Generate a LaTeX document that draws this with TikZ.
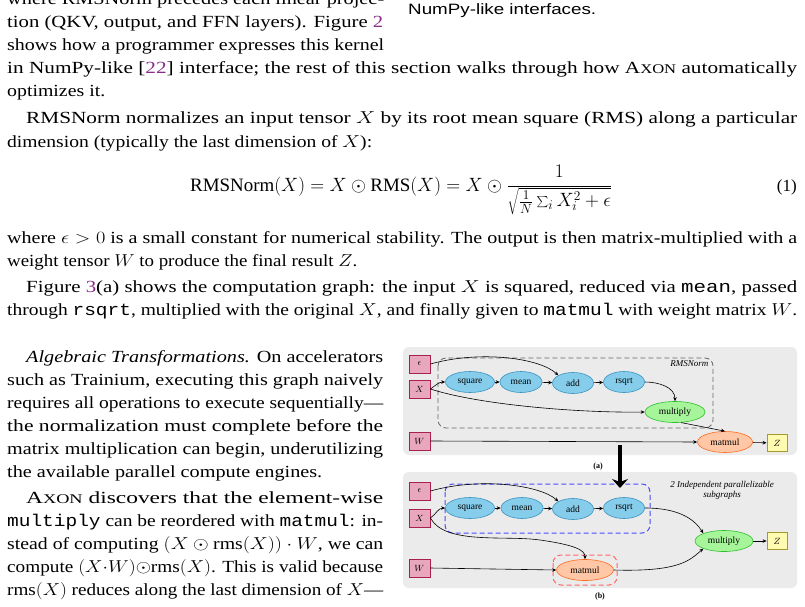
\documentclass[tikz,border=0pt]{standalone}
\usepackage{fontspec}
\setmainfont{Liberation Serif}
\setsansfont{Liberation Sans}
\setmonofont{Liberation Mono}
\usetikzlibrary{arrows.meta,shapes.geometric}
\definecolor{refc}{HTML}{8A2B8A}
\definecolor{pfill}{HTML}{E9A7BE}
\definecolor{pdraw}{HTML}{A8204E}
\definecolor{bfill}{HTML}{86CDEB}
\definecolor{bdraw}{HTML}{3893BE}
\definecolor{gfill}{HTML}{A6F59A}
\definecolor{gdraw}{HTML}{2FBF2F}
\definecolor{ofill}{HTML}{FFC7A6}
\definecolor{odraw}{HTML}{FF6A1E}
\definecolor{yfill}{HTML}{FFFBB0}
\definecolor{ydraw}{HTML}{A89A2A}
\definecolor{panel}{HTML}{EBEBEB}
\newcommand\pline[4]{\node[anchor=base west,inner sep=0pt,font=\fontsize{17}{20}\selectfont] at (#1,#2) {\resizebox{#3pt}{\height}{#4}};}
\newcommand\ax{A\scalebox{0.78}{XON}}
\tikzset{
  inbox/.style={draw=pdraw,fill=pfill,line width=0.8pt,minimum width=21pt,minimum height=18pt,inner sep=0pt,font=\fontsize{9.5}{10}\selectfont},
  opn/.style={ellipse,draw=bdraw,fill=bfill,line width=0.6pt,minimum height=21pt,inner sep=0pt,font=\fontsize{9.5}{10}\selectfont},
  arr/.style={-{Stealth[length=4pt,width=3.5pt]},line width=0.6pt},
  pnl/.style={fill=panel,rounded corners=6pt,draw=none},
  fig/.style={font=\fontsize{9}{10}\selectfont}
}
\begin{document}
\begin{tikzpicture}[x=1pt,y=-1pt]
\useasboundingbox (0,0) rectangle (805,607);
% text
\pline{7}{5}{377}{where RMSNorm precedes each linear projec-}
\pline{7}{28}{376}{tion (QKV, output, and FFN layers). Figure \textcolor{refc}{2}}
\pline{7}{51}{377}{shows how a programmer expresses this kernel}
\node[anchor=base west,inner sep=0pt,font=\sffamily\fontsize{15}{18}\selectfont] (cap) at (408,15) {\resizebox{188pt}{\height}{NumPy-like interfaces.}};
\pline{7}{74}{790}{in NumPy-like [\textcolor{refc}{22}] interface; the rest of this section walks through how \ax\ automatically}
\pline{7}{97}{98}{optimizes it.}
\pline{26}{124}{771}{RMSNorm normalizes an input tensor $X$ by its root mean square (RMS) along a particular}
\pline{7}{147}{365}{dimension (typically the last dimension of $X$):}
\node[anchor=base west,inner sep=0pt,font=\fontsize{17}{20}\selectfont] (eq) at (190,191) {\resizebox{422pt}{!}{$\displaystyle \mathrm{RMSNorm}(X) = X \odot \mathrm{RMS}(X) = X\odot \frac{1}{\sqrt{\frac{1}{N}\sum_i X_i^2+\epsilon}}$}};
\node[anchor=base east,inner sep=0pt,font=\fontsize{17}{20}\selectfont] (eqn) at (797,191) {(1)};
\pline{7}{243}{790}{where $\epsilon>0$ is a small constant for numerical stability. The output is then matrix-multiplied with a}
\pline{7}{266}{350}{weight tensor $W$ to produce the final result $Z$.}
\pline{26}{292}{771}{Figure \textcolor{refc}{3}(a) shows the computation graph: the input $X$ is squared, reduced via \texttt{mean}, passed}
\pline{7}{315}{790}{through \texttt{rsqrt}, multiplied with the original $X$, and finally given to \texttt{matmul} with weight matrix $W$.}
\pline{26}{362}{357}{\textit{Algebraic Transformations.} On accelerators}
\pline{7}{385}{376}{such as Trainium, executing this graph naively}
\pline{7}{408}{376}{requires all operations to execute sequentially---}
\pline{7}{431}{376}{the normalization must complete before the}
\pline{7}{454}{376}{matrix multiplication can begin, underutilizing}
\pline{7}{477}{315}{the available parallel compute engines.}
\pline{26}{503}{357}{\ax\ discovers that the element-wise}
\pline{7}{526}{376}{\texttt{multiply} can be reordered with \texttt{matmul}: in-}
\pline{7}{549}{376}{stead of computing $(X\odot \mathrm{rms}(X))\cdot W$, we can}
\pline{7}{572}{376}{compute $(X{\cdot}W){\odot}\mathrm{rms}(X)$. This is valid because}
\pline{7}{595}{376}{$\mathrm{rms}(X)$ reduces along the last dimension of $X$---}
% panel a
\fill[pnl] (403,347) rectangle (797,455);
\draw[dashed,gray!80!black,line width=0.8pt,dash pattern=on 5pt off 3pt,rounded corners=8pt] (438,358) rectangle (713,428);
\node[fig,font=\fontsize{9}{10}\selectfont\itshape,anchor=east] (rl) at (712,364) {RMSNorm};
\node[inbox] (e1) at (419.5,364) {$\epsilon$};
\node[inbox] (X1) at (419.5,389) {$X$};
\node[inbox] (W1) at (419.5,441) {$W$};
\node[opn,minimum width=49pt] (sq1) at (470,382) {square};
\node[opn,minimum width=42pt] (me1) at (521,382) {mean};
\node[opn,minimum width=41pt] (ad1) at (573,383) {add};
\node[opn,minimum width=41pt] (rs1) at (624,382) {rsqrt};
\node[opn,draw=gdraw,fill=gfill,minimum width=60pt] (mu1) at (675,412) {multiply};
\node[opn,draw=odraw,fill=ofill,minimum width=55pt] (mm1) at (725,442) {matmul};
\node[inbox,draw=ydraw,fill=yfill,minimum width=20pt,minimum height=17pt] (Z1) at (777,443) {$Z$};
\draw[arr] (e1.east) .. controls (480,350) and (540,358) .. (ad1.north west);
\draw[arr] (X1.east) to[out=35,in=180] (sq1.west);
\draw[arr] (sq1) -- (me1);
\draw[arr] (me1) -- (ad1);
\draw[arr] (ad1) -- (rs1);
\draw[arr] (X1.east) .. controls (480,405) and (580,413) .. (mu1.west);
\draw[arr] (rs1.east) to[out=0,in=90] (mu1.north);
\draw[arr] (mu1.-60) -- (mm1.north);
\draw[arr] (W1.east) -- (mm1.west);
\draw[arr] (mm1) -- (Z1);
\node[fig,font=\fontsize{8}{10}\selectfont\bfseries] (la) at (598,467) {(a)};
% panel b
\fill[pnl] (403,472) rectangle (797,588);
\node[fig,font=\fontsize{9}{10}\selectfont\itshape,align=center] (pl) at (722,490) {2 Independent parallelizable\\subgraphs};
\node[inbox] (e2) at (419.5,491) {$\epsilon$};
\node[inbox] (X2) at (419.5,518) {$X$};
\node[inbox] (W2) at (419.5,568) {$W$};
\node[opn,minimum width=49pt] (sq2) at (470,508) {square};
\node[opn,minimum width=42pt] (me2) at (522,508) {mean};
\node[opn,minimum width=41pt] (ad2) at (573,509) {add};
\node[opn,minimum width=41pt] (rs2) at (624,508) {rsqrt};
\node[opn,draw=gdraw,fill=gfill,minimum width=58pt] (mu2) at (724,541) {multiply};
\node[opn,draw=odraw,fill=ofill,minimum width=57pt] (mm2) at (585,570) {matmul};
\node[inbox,draw=ydraw,fill=yfill,minimum width=20pt,minimum height=17pt] (Z2) at (777,541) {$Z$};
\draw[dashed,blue!70,line width=1pt,dash pattern=on 5pt off 3pt,rounded corners=8pt] (445,484) rectangle (650,533);
\draw[dashed,red!60,line width=1pt,dash pattern=on 5pt off 3pt,rounded corners=8pt] (553,555) rectangle (617,585);
\draw[arr] (e2.east) .. controls (480,477) and (540,485) .. (ad2.north west);
\draw[arr] (X2.east) to[out=35,in=180] (sq2.west);
\draw[arr] (sq2) -- (me2);
\draw[arr] (me2) -- (ad2);
\draw[arr] (ad2) -- (rs2);
\draw[arr] (X2.east) .. controls (445,545) and (505,535) .. (540,540) .. controls (575,545) and (585,550) .. (mm2.north);
\draw[arr] (W2.east) -- (mm2.west);
\draw[arr] (rs2.east) .. controls (680,508) and (695,520) .. (mu2.north west);
\draw[arr] (mm2.east) .. controls (680,572) and (690,560) .. (mu2.south west);
\draw[arr] (mu2) -- (Z2);
\node[fig,font=\fontsize{8}{10}\selectfont\bfseries] (lb) at (600,597) {(b)};
% arrow between panels
\coordinate (bt) at (620,445);
\coordinate (bh) at (620,488);
\draw[line width=3.2pt,-{Stealth[length=9pt,width=16pt,inset=3pt]}] (bt) -- (bh);
\end{tikzpicture}
\end{document}
